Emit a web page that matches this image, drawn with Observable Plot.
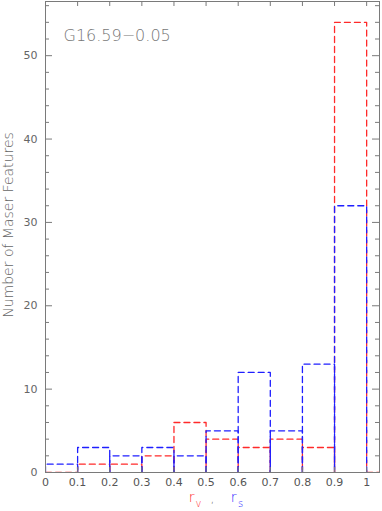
<!DOCTYPE html>
<html><head><meta charset="utf-8">
<script src="https://cdn.jsdelivr.net/npm/d3@7"></script>
<script src="https://cdn.jsdelivr.net/npm/@observablehq/plot@0.6"></script>
<style>body{margin:0;background:#fff;} svg{display:block;}</style>
</head><body><div id="chart"></div>
<script>
const binEdges = [0, 0.1, 0.2, 0.3, 0.4, 0.5, 0.6, 0.7, 0.8, 0.9, 1.0, 1.1];
const rvCounts = [0, 1, 1, 2, 6, 4, 3, 4, 3, 54, 0];
const rsCounts = [1, 3, 2, 3, 2, 5, 12, 5, 13, 32];
const xTicks = [0, 0.1, 0.2, 0.3, 0.4, 0.5, 0.6, 0.7, 0.8, 0.9, 1.0];
const yMajor = [0, 10, 20, 30, 40, 50];
const yMinor = d3.range(0, 57, 2).filter(v => v % 10 !== 0);
const titleText = "G16.59\u22120.05";
const yLabel = "Number of Maser Features";

const W = 382, H = 511;
const mL = 45, mR = 3, mT = 1, mB = 39;
const pw = W - mL - mR, ph = H - mT - mB;

function outline(counts, name) {
  const pts = [];
  counts.forEach((v, i) => {
    const a = binEdges[i], b = binEdges[i + 1];
    pts.push({x: a, y: 0, z: name + i}, {x: a, y: v, z: name + i}, {x: b, y: v, z: name + i}, {x: b, y: 0, z: name + i});
  });
  return pts;
}
const red = "#ff2a2a", blue = "#1f1fff", grey = "#7a7a7a";
const font = "DejaVu Sans, Liberation Sans, sans-serif";

const plot = Plot.plot({
  width: W, height: H,
  marginLeft: mL, marginRight: mR, marginTop: mT, marginBottom: mB,
  style: {fontFamily: font, fontWeight: 200, background: "#fff"},
  x: {domain: [0, 1.04]},
  y: {domain: [0, 56.5]},
  marks: [
    Plot.line(outline(rvCounts, "v"), {x: "x", y: "y", z: "z", stroke: red, strokeWidth: 1.3, strokeDasharray: "6,4", clip: true}),
    Plot.line(outline(rsCounts, "s"), {x: "x", y: "y", z: "z", stroke: blue, strokeWidth: 1.3, strokeDasharray: "6,4", clip: true}),
    Plot.frame({stroke: grey}),
    Plot.tickY(yMajor, {y: d => d, insetRight: pw - 7, stroke: grey}),
    Plot.tickY(yMinor, {y: d => d, insetRight: pw - 4, stroke: grey}),
    Plot.tickY(yMajor, {y: d => d, insetLeft: pw - 7, stroke: grey}),
    Plot.tickY(yMinor, {y: d => d, insetLeft: pw - 4, stroke: grey}),
    Plot.tickX(xTicks, {x: d => d, insetBottom: ph - 5, stroke: grey}),
    Plot.tickX(xTicks, {x: d => d, insetTop: ph - 5, stroke: grey}),
    Plot.axisY({ticks: yMajor, tickSize: 0, tickPadding: 8, tickFormat: d => String(d), fontSize: 11, fontWeight: 400, color: "#666", label: null}),
    Plot.axisX({ticks: xTicks, tickSize: 0, tickPadding: 6, tickFormat: d => d === 0 ? "0" : d === 1 ? "1" : d.toFixed(1), fontSize: 11, fontWeight: 400, color: "#555", label: null}),
    Plot.text([yLabel], {text: d => d, frameAnchor: "left", textAnchor: "middle", dx: -37, dy: -12, rotate: -90, fontSize: 14, fill: "#666", letterSpacing: 0.3}),
    Plot.text([titleText], {text: d => d, frameAnchor: "top-left", dx: 18, dy: 28, textAnchor: "start", fontSize: 16, fill: "#777"}),
    Plot.text(["r"], {text: d => d, frameAnchor: "bottom", dx: -21, dy: 29, fontSize: 14, fill: "#ff3030"}),
    Plot.text(["v"], {text: d => d, frameAnchor: "bottom", dx: -14, dy: 34, fontSize: 10, fill: "#ff3030"}),
    Plot.text([","], {text: d => d, frameAnchor: "bottom", dx: 0, dy: 30, fontSize: 12, fill: "#555"}),
    Plot.text(["r"], {text: d => d, frameAnchor: "bottom", dx: 21, dy: 29, fontSize: 14, fill: "#3030ff"}),
    Plot.text(["s"], {text: d => d, frameAnchor: "bottom", dx: 28, dy: 34, fontSize: 10, fill: "#3030ff"})
  ]
});
document.getElementById("chart").append(plot);
</script></body></html>
